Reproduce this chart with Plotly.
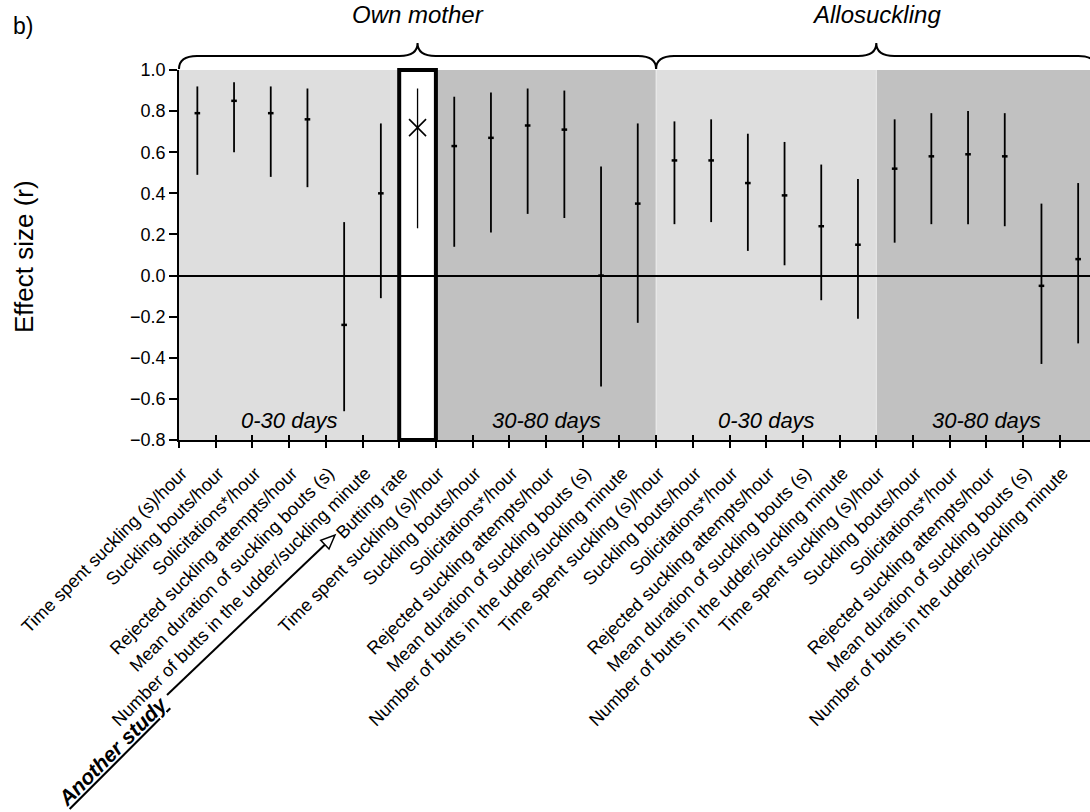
import math
import plotly.graph_objects as go

# ---------------- data ----------------
block_labels = ["Time spent suckling (s)/hour", "Suckling bouts/hour", "Solicitations*/hour",
                "Rejected suckling attempts/hour", "Mean duration of suckling bouts (s)",
                "Number of butts in the udder/suckling minute"]
other_labels = ["Butting rate"]
tick_labels = block_labels + other_labels + block_labels + block_labels + block_labels

own_early_r = [0.79, 0.85, 0.79, 0.76, -0.24, 0.40]
own_early_lo = [0.49, 0.60, 0.48, 0.43, -0.66, -0.11]
own_early_hi = [0.92, 0.94, 0.92, 0.91, 0.26, 0.74]

other_r = [0.72]
other_lo = [0.23]
other_hi = [0.91]

own_late_r = [0.63, 0.67, 0.73, 0.71, 0.00, 0.35]
own_late_lo = [0.14, 0.21, 0.30, 0.28, -0.54, -0.23]
own_late_hi = [0.87, 0.89, 0.91, 0.90, 0.53, 0.74]

allo_early_r = [0.56, 0.56, 0.45, 0.39, 0.24, 0.15]
allo_early_lo = [0.25, 0.26, 0.12, 0.05, -0.12, -0.21]
allo_early_hi = [0.75, 0.76, 0.69, 0.65, 0.54, 0.47]

allo_late_r = [0.52, 0.58, 0.59, 0.58, -0.05, 0.08]
allo_late_lo = [0.16, 0.25, 0.25, 0.24, -0.43, -0.33]
allo_late_hi = [0.76, 0.79, 0.80, 0.79, 0.35, 0.45]

y_ticks = [-0.8, -0.6, -0.4, -0.2, 0.0, 0.2, 0.4, 0.6, 0.8, 1.0]
period_labels = ["0-30 days", "30-80 days", "0-30 days", "30-80 days"]
group_titles = ["Own mother", "Allosuckling"]

# ---------------- layout geometry ----------------
W, H = 1090, 812
ML, MT, MB = 179, 70, 372
PW = W - ML
PH = H - MT - MB
STEP = 36.7                      # pixels per category
X0 = -0.5
X1 = X0 + PW / STEP
Y0, Y1 = -0.8, 1.0

def px_x(px):
    return (px - ML) / PW

def px_y(py):
    return (MT + PH - py) / PH

def idx_to_px(i):
    return ML + (i - X0) / (X1 - X0) * PW

# category positions
n = len(block_labels)
x_own_early = list(range(0, n))
x_other = [n]
x_own_late = list(range(n + 1, 2 * n + 1))
x_allo_early = list(range(2 * n + 1, 3 * n + 1))
x_allo_late = list(range(3 * n + 1, 4 * n + 1))
n_total = len(tick_labels)

main_x = x_own_early + x_own_late + x_allo_early + x_allo_late
main_r = own_early_r + own_late_r + allo_early_r + allo_late_r
main_lo = own_early_lo + own_late_lo + allo_early_lo + allo_late_lo
main_hi = own_early_hi + own_late_hi + allo_early_hi + allo_late_hi

fig = go.Figure()

fig.add_trace(go.Scatter(
    x=main_x, y=main_r, mode="markers",
    marker=dict(symbol="line-ew", size=4, color="black", line=dict(width=2.5, color="black")),
    error_y=dict(type="data", symmetric=False,
                 array=[h - r for h, r in zip(main_hi, main_r)],
                 arrayminus=[r - l for r, l in zip(main_r, main_lo)],
                 color="black", thickness=1.8, width=0),
    showlegend=False, hoverinfo="skip"))

fig.add_trace(go.Scatter(
    x=x_other, y=other_r, mode="markers",
    marker=dict(symbol="x-thin-open", size=17, color="black", line=dict(width=1.6, color="black")),
    error_y=dict(type="data", symmetric=False,
                 array=[h - r for h, r in zip(other_hi, other_r)],
                 arrayminus=[r - l for r, l in zip(other_r, other_lo)],
                 color="black", thickness=1.3, width=0),
    showlegend=False, hoverinfo="skip"))

# invisible trace for the overlay axis (inner tick marks)
fig.add_trace(go.Scatter(x=[X0], y=[Y0], xaxis="x2", mode="markers",
                         marker=dict(opacity=0), showlegend=False, hoverinfo="skip"))

tickvals = [i - 0.5 for i in range(n_total + 1)]
ticktext = tick_labels + [""]

LIGHT, DARK = "#dedede", "#c1c1c1"
regions = [
    (x_own_early[0] - 0.5, x_own_early[-1] + 0.5, LIGHT),
    (x_own_late[0] - 0.5, x_own_late[-1] + 0.5, DARK),
    (x_allo_early[0] - 0.5, x_allo_early[-1] + 0.5, LIGHT),
    (x_allo_late[0] - 0.5, x_allo_late[-1] + 0.5, DARK),
]
shapes = []
for a, b, c in regions:
    shapes.append(dict(type="rect", xref="x", yref="paper", x0=a, x1=b, y0=0, y1=1,
                       fillcolor=c, line=dict(width=0), layer="below"))
# thin separators between periods
for a, b, c in regions[1:]:
    shapes.append(dict(type="line", xref="x", yref="paper", x0=a, x1=a, y0=0, y1=1,
                       line=dict(color="#ececec", width=1), layer="below"))
# box around "another study"
shapes.append(dict(type="rect", xref="x", yref="paper", x0=x_other[0] - 0.5, x1=x_other[0] + 0.5,
                   y0=0, y1=1, fillcolor="white", line=dict(color="black", width=4), layer="below"))

# braces
def brace(i0, i1, yb=69, ym=56, yt=43, r=18):
    x0p, x1p = idx_to_px(i0), idx_to_px(i1)
    xm = (x0p + x1p) / 2
    pts = lambda x, y: f"{px_x(x):.5f},{px_y(y):.5f}"
    return ("M " + pts(x0p, yb) + " Q " + pts(x0p, ym) + " " + pts(x0p + r, ym) +
            " L " + pts(xm - r, ym) + " Q " + pts(xm, ym) + " " + pts(xm, yt) +
            " Q " + pts(xm, ym) + " " + pts(xm + r, ym) +
            " L " + pts(x1p - r, ym) + " Q " + pts(x1p, ym) + " " + pts(x1p, yb))

own_span = (x_own_early[0] - 0.5, x_own_late[-1] + 0.5)
allo_span = (x_allo_early[0] - 0.5, x_allo_late[-1] + 0.5)
for s in (own_span, allo_span):
    shapes.append(dict(type="path", xref="paper", yref="paper", path=brace(*s),
                       line=dict(color="black", width=2)))

# arrow from "Another study" to "Butting rate"
sx, sy = 167, 695
tx, ty = 335, 535
L = math.hypot(tx - sx, ty - sy)
ux, uy = (tx - sx) / L, (ty - sy) / L
hl, hw = 14, 6
bx, by = tx - hl * ux, ty - hl * uy
nx, ny = -uy, ux
shapes.append(dict(type="path", xref="paper", yref="paper",
                   path=f"M {px_x(sx):.5f},{px_y(sy):.5f} L {px_x(bx):.5f},{px_y(by):.5f}",
                   line=dict(color="black", width=2)))
shapes.append(dict(type="path", xref="paper", yref="paper",
                   path=(f"M {px_x(tx):.5f},{px_y(ty):.5f} L {px_x(bx + hw*nx):.5f},{px_y(by + hw*ny):.5f} "
                         f"L {px_x(bx - hw*nx):.5f},{px_y(by - hw*ny):.5f} Z"),
                   fillcolor="white", line=dict(color="black", width=1.5)))

FONT = "Liberation Sans, Arial, sans-serif"
annotations = []
for (a, b, c), lab in zip(regions, period_labels):
    annotations.append(dict(x=(a + b) / 2, y=-0.705, xref="x", yref="y", text=f"<i>{lab}</i>",
                            showarrow=False, xanchor="center", yanchor="middle",
                            font=dict(size=22, color="black", family=FONT)))
for s, t in zip((own_span, allo_span), group_titles):
    annotations.append(dict(x=px_x((idx_to_px(s[0]) + idx_to_px(s[1])) / 2), y=px_y(15),
                            xref="paper", yref="paper", text=f"<i>{t}</i>", showarrow=False,
                            xanchor="center", yanchor="middle",
                            font=dict(size=24, color="black", family=FONT)))
annotations.append(dict(x=px_x(11), y=px_y(26), xref="paper", yref="paper", text="b)",
                        xanchor="left", yanchor="middle", showarrow=False,
                        font=dict(size=23, color="black", family=FONT)))
annotations.append(dict(x=px_x(24), y=px_y(257), xref="paper", yref="paper", text="Effect size (r)",
                        textangle=-90, showarrow=False, xanchor="center", yanchor="middle",
                        font=dict(size=26, color="black", family=FONT)))
annotations.append(dict(x=px_x(112), y=px_y(751), xref="paper", yref="paper",
                        text="<u><b><i>Another study</i></b></u>", textangle=-45, showarrow=False,
                        xanchor="center", yanchor="middle",
                        font=dict(size=21, color="black", family=FONT)))

fig.update_layout(
    width=W, height=H,
    margin=dict(l=ML, r=0, t=MT, b=MB, autoexpand=False),
    paper_bgcolor="white", plot_bgcolor="white",
    font=dict(family=FONT, color="black"),
    showlegend=False,
    xaxis=dict(range=[X0, X1], tickmode="array", tickvals=tickvals, ticktext=ticktext,
               tickangle=-45, ticks="outside", ticklen=6, tickwidth=1.5, tickcolor="black",
               ticklabelstandoff=8, ticklabelshift=3,
               showline=True, linecolor="black", linewidth=1.5, showgrid=False, zeroline=False,
               tickfont=dict(size=18, color="black", family=FONT), automargin=False),
    xaxis2=dict(range=[X0, X1], overlaying="x", anchor="y", side="bottom", tickmode="array",
                tickvals=tickvals, showticklabels=False, ticks="inside", ticklen=5, tickwidth=1.5,
                tickcolor="black", showline=False, showgrid=False, zeroline=False),
    yaxis=dict(range=[Y0, Y1], tickmode="array", tickvals=y_ticks, tickformat=".1f",
               ticks="outside", ticklen=8, tickwidth=1.5, tickcolor="black",
               showline=True, linecolor="black", linewidth=1.5, showgrid=False,
               zeroline=True, zerolinecolor="black", zerolinewidth=2,
               tickfont=dict(size=18, color="black", family=FONT), automargin=False),
    shapes=shapes,
    annotations=annotations,
)

fig.write_html("out.html", config={"displayModeBar": False},
               post_script="document.body.style.margin='0';"
                           "document.documentElement.style.overflow='hidden';")
